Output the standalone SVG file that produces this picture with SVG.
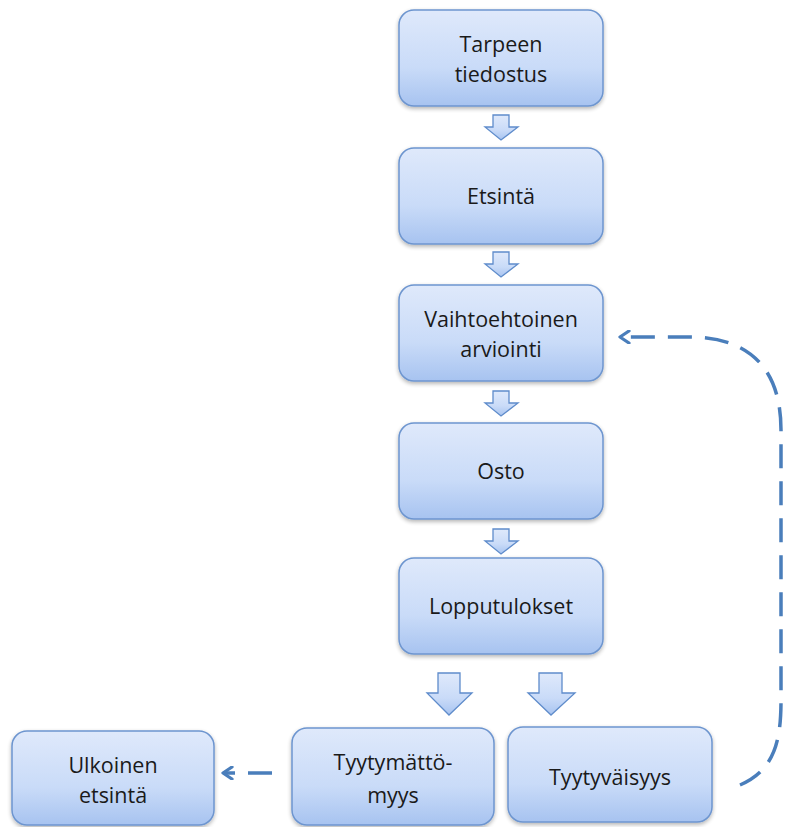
<svg xmlns="http://www.w3.org/2000/svg" width="785" height="827" viewBox="0 0 785 827">
<defs>
<linearGradient id="g" x1="0" y1="0" x2="0" y2="1">
<stop offset="0" stop-color="#dfe9fb"/>
<stop offset="0.6" stop-color="#c9dbf8"/>
<stop offset="1" stop-color="#a7c3f0"/>
</linearGradient>
<filter id="sh" x="-10%" y="-10%" width="125%" height="130%">
<feGaussianBlur in="SourceAlpha" stdDeviation="2"/>
<feOffset dx="0" dy="2"/>
<feComponentTransfer><feFuncA type="linear" slope="0.3"/></feComponentTransfer>
<feMerge><feMergeNode/><feMergeNode in="SourceGraphic"/></feMerge>
</filter>
<marker id="ah" markerWidth="14" markerHeight="14" refX="11" refY="7" orient="auto" markerUnits="userSpaceOnUse">
<path d="M2,1 L11,7 L2,13" fill="none" stroke="#4a7ebb" stroke-width="3.2" stroke-linecap="round" stroke-linejoin="round"/>
</marker>
</defs>
<style>
.box{fill:url(#g);stroke:#6d95cf;stroke-width:1.5;filter:url(#sh)}
.arr{fill:url(#g);stroke:#5f8ccb;stroke-width:1.3;stroke-linejoin:miter}
text{font-family:"Open Sans","Liberation Sans",sans-serif;font-size:21.5px;fill:#1a1a1a;text-anchor:middle}
.dash{fill:none;stroke:#4a7ebb;stroke-width:3.5;stroke-dasharray:24 13}
</style>
<g id="n1"><rect class="box" x="399" y="10" width="204" height="96" rx="15"/><text x="501" y="52">Tarpeen</text><text x="501" y="82">tiedostus</text></g>
<g id="n2"><rect class="box" x="399" y="148" width="204" height="96" rx="15"/><text x="501" y="204">Etsintä</text></g>
<g id="n3"><rect class="box" x="399" y="285" width="204" height="96" rx="15"/><text x="501" y="327">Vaihtoehtoinen</text><text x="501" y="357">arviointi</text></g>
<g id="n4"><rect class="box" x="399" y="423" width="204" height="96" rx="15"/><text x="501" y="479">Osto</text></g>
<g id="n5"><rect class="box" x="399" y="558" width="204" height="96" rx="15"/><text x="501" y="614">Lopputulokset</text></g>
<g id="n6"><rect class="box" x="12" y="731" width="202" height="94" rx="15"/><text x="113" y="773">Ulkoinen</text><text x="113" y="803">etsintä</text></g>
<g id="n7"><rect class="box" x="292" y="728" width="202" height="97" rx="15"/><text x="393" y="770">Tyytymättö-</text><text x="393" y="803">myys</text></g>
<g id="n8"><rect class="box" x="508" y="727" width="204" height="95" rx="15"/><text x="610" y="785">Tyytyväisyys</text></g>
<g id="connectors">
<path class="arr" d="M493,115 H509 V127 H518 L501,140 L485,127 H493 Z"/>
<path class="arr" d="M493,252 H509 V264 H518 L501,277 L485,264 H493 Z"/>
<path class="arr" d="M493,391 H509 V403 H518 L501,416 L485,403 H493 Z"/>
<path class="arr" d="M493,529 H509 V541 H518 L501,554 L485,541 H493 Z"/>
<path class="arr" d="M438,673 H460 V693 H472 L449,715 L427,693 H438 Z"/>
<path class="arr" d="M539,673 H562 V693 H575 L551,715 L528,693 H539 Z"/>
<path class="dash" d="M272,773 H223" marker-end="url(#ah)"/>
<path class="dash" d="M740,785 C775,770 781,740 781,700 V430 C781,360 740,337 690,337 H620" marker-end="url(#ah)"/>
</g>
</svg>
